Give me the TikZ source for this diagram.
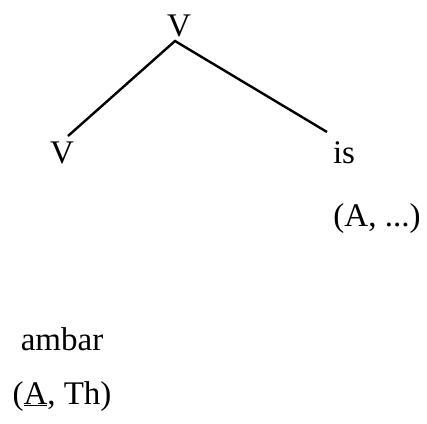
\documentclass[tikz,border=0pt]{standalone}
\usepackage{fontspec}
\setmainfont{Liberation Serif}
\begin{document}
\begin{tikzpicture}[x=1pt,y=-1pt,
  lbl/.style={inner sep=0pt,anchor=base,font=\fontsize{33}{36}\selectfont},
  edge/.style={line width=2.4pt}]
\useasboundingbox (0,0) rectangle (427,423);
\node[lbl] (top) at (179,36) {V};
\node[lbl] (left) at (62,163) {V};
\node[lbl] (is) at (344,163) {is};
\node[lbl] (isarg) at (377,226) {(A, ...)};
\node[lbl] (ambar) at (62,350) {ambar};
\node[lbl] (ambararg) at (62,404) {(\underline{A}, Th)};
\coordinate (apex) at (175,41);
\coordinate (lend) at (68,136);
\coordinate (rend) at (327,132);
\draw[edge] (lend) -- (apex) -- (rend);
\end{tikzpicture}
\end{document}
